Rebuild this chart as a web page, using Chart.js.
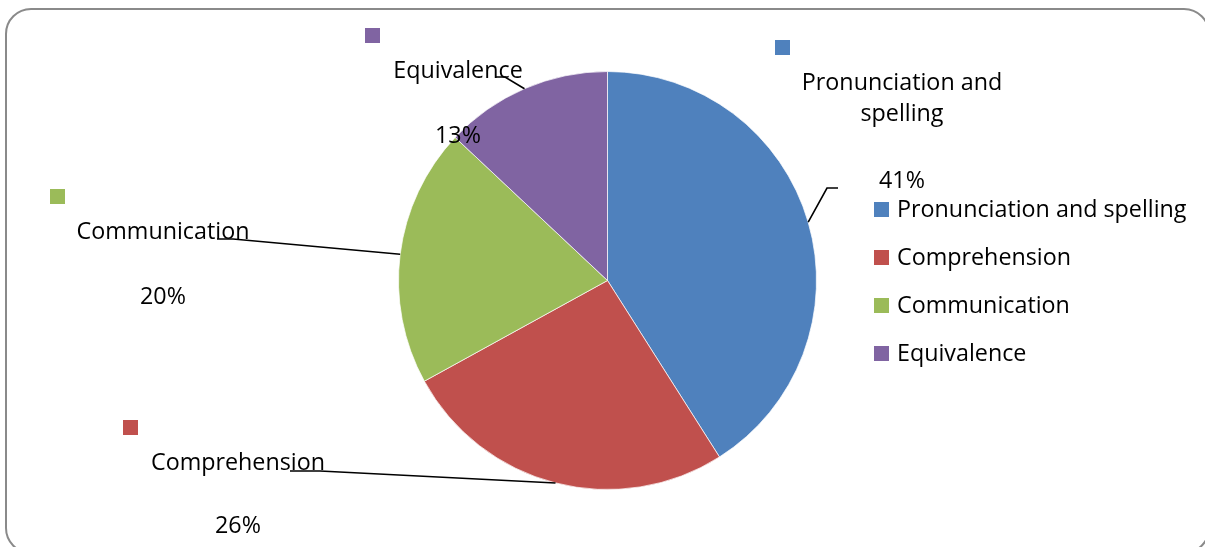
<!DOCTYPE html>
<html>
<head>
<meta charset="utf-8">
<script src="https://cdn.jsdelivr.net/npm/chart.js@4"></script>
<style>
  html, body { margin: 0; padding: 0; background: #ffffff; }
  #wrap { position: relative; width: 1205px; height: 547px; }
</style>
</head>
<body>
<div id="wrap"><canvas id="chart"></canvas></div>
<script>
// Categories and their shares
const categories = ['Pronunciation and spelling', 'Comprehension', 'Communication', 'Equivalence'];
const shares = [41, 26, 20, 13];
const sliceColors = ['#4F81BD', '#C0504D', '#9BBB59', '#8064A2'];

// Text lines of each outside label (category name wrapped as shown)
const labelLines = [['Pronunciation and', 'spelling'], ['Comprehension'], ['Communication'], ['Equivalence']];

const FONT = '"Open Sans", "Noto Sans", sans-serif';
const TEXT_SIZE = 23.3;

// Placement of the outside labels: centre x, baselines, key square, leader elbow/end
const labelLayout = [
  { cx: 902, lines: [90, 121], pct: 188, key: [775, 40], elbow: [827, 188], end: [838, 188] },
  { cx: 238, lines: [470], pct: 533, key: [123, 420], elbow: [320, 471], end: [290, 471] },
  { cx: 163, lines: [239], pct: 304, key: [50, 189], elbow: [233, 239], end: [217, 239] },
  { cx: 458, lines: [78], pct: 143, key: [365, 28], elbow: [505, 77], end: [495, 77] }
];

// Rounded frame around the whole chart
const framePlugin = {
  id: 'frame',
  beforeDraw(chart) {
    const ctx = chart.ctx;
    const x = 6, y = 9, w = 1203, h = 544, r = 25;
    ctx.save();
    ctx.beginPath();
    ctx.moveTo(x + r, y);
    ctx.lineTo(x + w - r, y);
    ctx.arcTo(x + w, y, x + w, y + r, r);
    ctx.lineTo(x + w, y + h - r);
    ctx.arcTo(x + w, y + h, x + w - r, y + h, r);
    ctx.lineTo(x + r, y + h);
    ctx.arcTo(x, y + h, x, y + h - r, r);
    ctx.lineTo(x, y + r);
    ctx.arcTo(x, y, x + r, y, r);
    ctx.closePath();
    ctx.lineWidth = 2;
    ctx.strokeStyle = '#8a8a8a';
    ctx.stroke();
    ctx.restore();
  }
};

// Outside labels with key squares and leader lines, plus the legend on the right
const labelPlugin = {
  id: 'outsideLabels',
  afterDatasetsDraw(chart) {
    const ctx = chart.ctx;
    const meta = chart.getDatasetMeta(0);
    const data = chart.data.datasets[0].data;
    const total = data.reduce((a, b) => a + b, 0);
    ctx.save();
    meta.data.forEach((arc, i) => {
      const L = labelLayout[i];
      const mid = (arc.startAngle + arc.endAngle) / 2;
      const px = arc.x + Math.cos(mid) * arc.outerRadius;
      const py = arc.y + Math.sin(mid) * arc.outerRadius;
      // leader line
      ctx.beginPath();
      ctx.moveTo(px, py);
      ctx.lineTo(L.elbow[0], L.elbow[1]);
      ctx.lineTo(L.end[0], L.end[1]);
      ctx.lineWidth = 1.6;
      ctx.strokeStyle = '#000000';
      ctx.stroke();
      // key square
      ctx.fillStyle = sliceColors[i];
      ctx.fillRect(L.key[0], L.key[1], 15, 15);
      // text
      ctx.fillStyle = '#000000';
      ctx.font = TEXT_SIZE + 'px ' + FONT;
      ctx.textAlign = 'center';
      ctx.textBaseline = 'alphabetic';
      labelLines[i].forEach((t, k) => ctx.fillText(t, L.cx, L.lines[k]));
      ctx.fillText(Math.round(data[i] / total * 100) + '%', L.cx, L.pct);
    });

    // legend
    ctx.textAlign = 'left';
    chart.data.labels.forEach((name, i) => {
      const top = 202 + i * 48;
      ctx.fillStyle = sliceColors[i];
      ctx.fillRect(874, top, 15, 15);
      ctx.fillStyle = '#000000';
      ctx.fillText(name, 897, top + 15);
    });
    ctx.restore();
  }
};

new Chart(document.getElementById('chart'), {
  type: 'pie',
  data: {
    labels: categories,
    datasets: [{
      data: shares,
      backgroundColor: sliceColors,
      borderColor: 'rgba(255,255,255,0.7)',
      borderWidth: 1,
      hoverOffset: 0,
      offset: 0
    }]
  },
  options: {
    responsive: true,
    maintainAspectRatio: false,
    animation: false,
    layout: { padding: { left: 398, right: 388, top: 71, bottom: 57 } },
    plugins: {
      legend: { display: false },
      tooltip: { enabled: false }
    }
  },
  plugins: [framePlugin, labelPlugin]
});
</script>
</body>
</html>
